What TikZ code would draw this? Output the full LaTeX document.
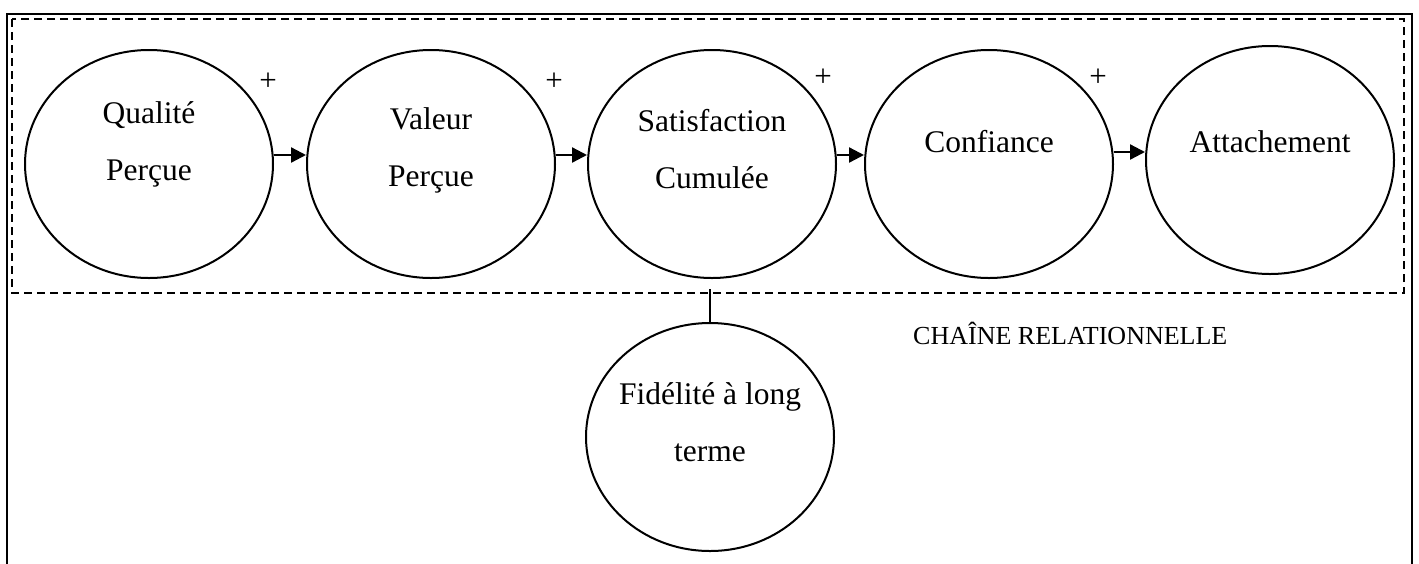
\documentclass[tikz,border=0pt]{standalone}
\usepackage{fontspec}
\setmainfont{Liberation Serif}
\usetikzlibrary{shapes.geometric,arrows.meta}

\begin{document}
\begin{tikzpicture}[x=1pt,y=-1pt,
  construct/.style={draw, line width=2pt, ellipse, minimum width=248pt,
    minimum height=228pt, inner sep=0pt},
  lbl/.style={align=center, font=\fontsize{31.5}{57}\selectfont, inner sep=0pt},
  sign/.style={font=\fontsize{31}{34}\selectfont, inner sep=0pt},
  link/.style={line width=2.3pt, -{Triangle[length=15pt,width=15pt]}},
  frame/.style={line width=2.4pt},
  chain/.style={line width=1.8pt, dash pattern=on 8pt off 5pt},
]
\useasboundingbox (0,0) rectangle (1419,563);

% outer frame, open at the bottom
\draw[frame] (7,575) -- (7,14) -- (1412,14) -- (1412,575);

% dashed frame of the relational chain
\draw[chain] (12,19) rectangle (1404,293);

% constructs of the chain
\node[construct] (qp) at (149,164) {};
\node[construct] (vp) at (431,164) {};
\node[construct] (sc) at (712,164) {};
\node[construct] (cf) at (989,164) {};
\node[construct] (at) at (1270,160) {};
\node[construct] (fl) at (710,437) {};

% labels
\node[lbl] (qpt) at (149,144) {Qualité\\Perçue};
\node[lbl] (vpt) at (431,150) {Valeur\\Perçue};
\node[lbl] (sct) at (712,149) {Satisfaction\\Cumulée};
\node[lbl] (cft) at (989,142) {Confiance};
\node[lbl] (att) at (1270,142) {Attachement};
\node[lbl] (flt) at (710,422) {Fidélité à long\\terme};

% positive links
\draw[link] ([yshift=9pt]qp.east) -- ([yshift=9pt]vp.west);
\draw[link] ([yshift=9pt]vp.east) -- ([yshift=9pt]sc.west);
\draw[link] ([yshift=9pt]sc.east) -- ([yshift=9pt]cf.west);
\draw[link] ([yshift=12pt]cf.east) -- ([yshift=8pt]at.west);

\node[sign] (s1) at (268,82) {+};
\node[sign] (s2) at (554,82) {+};
\node[sign] (s3) at (823,78) {+};
\node[sign] (s4) at (1098,78) {+};

% link from the chain to long-term loyalty
\coordinate (chainfoot) at (710,289);
\draw[line width=1.8pt] (chainfoot) -- (fl.north);

\node[font=\fontsize{26}{30}\selectfont, inner sep=0pt, anchor=base west]
  (title) at (913,344) {CHAÎNE RELATIONNELLE};
\end{tikzpicture}
\end{document}
